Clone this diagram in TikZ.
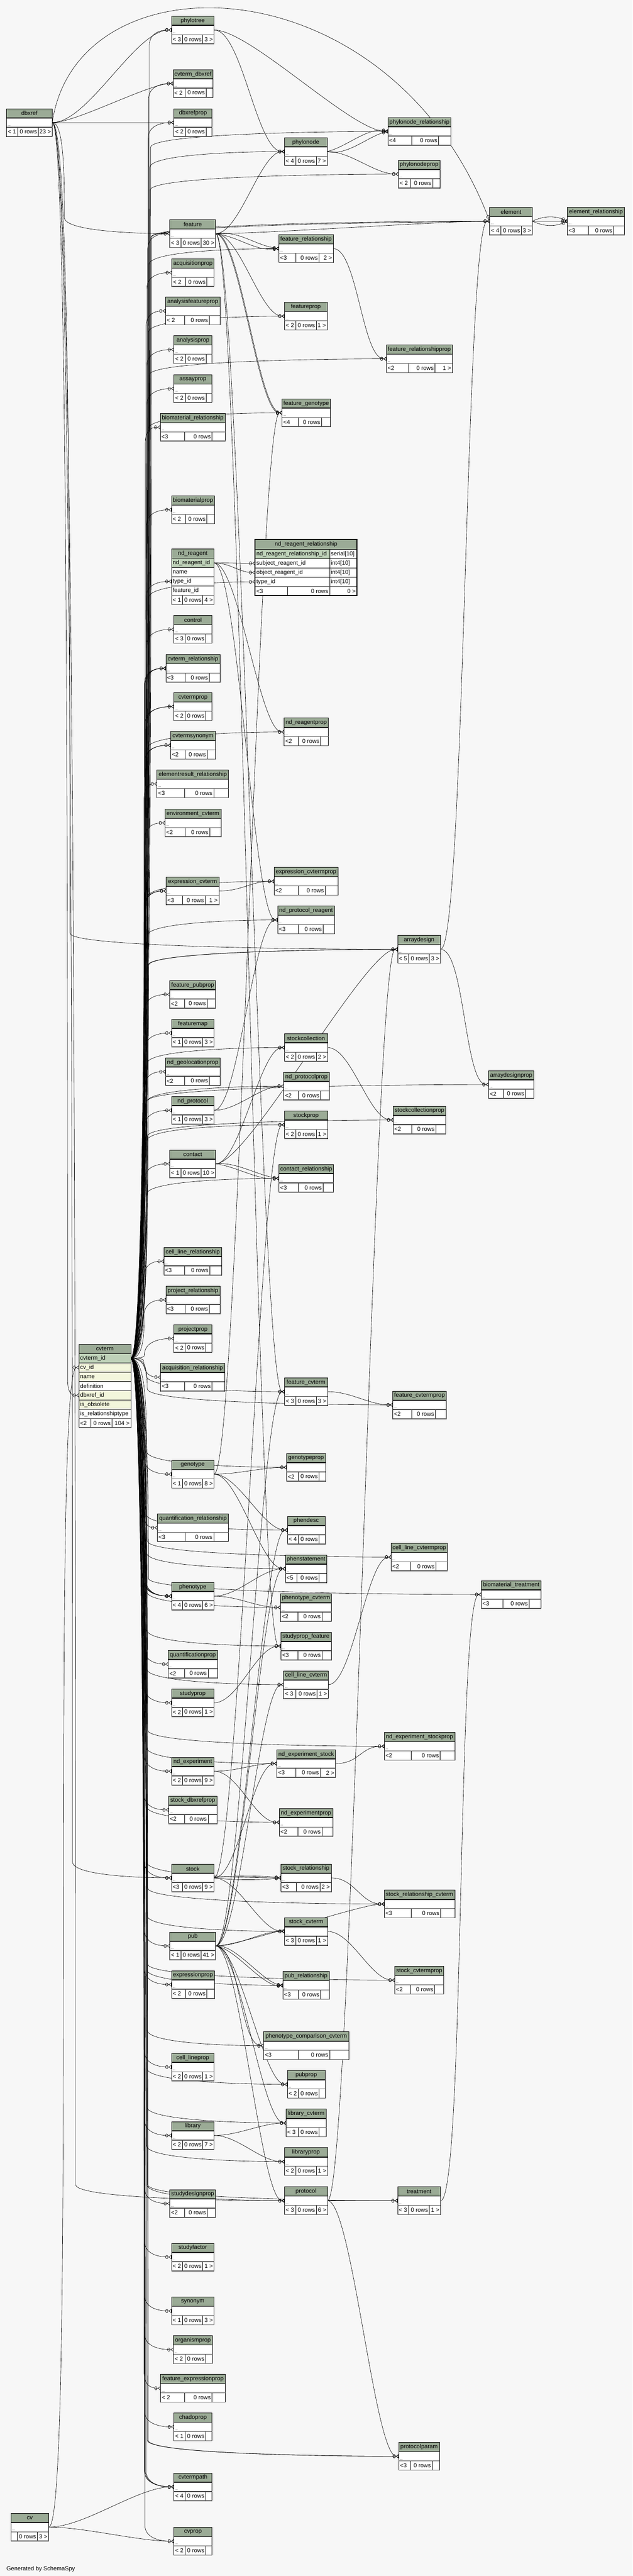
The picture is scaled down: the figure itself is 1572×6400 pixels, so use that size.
\documentclass[tikz,border=0pt]{standalone}
\usepackage{fontspec}
\setmainfont{Liberation Sans}
\usetikzlibrary{calc, arrows.meta}

\definecolor{pagebg}{HTML}{F7F7F7}
\definecolor{hdrgreen}{HTML}{9BAB96}
\definecolor{keygreen}{HTML}{BED1B8}
\definecolor{idxyellow}{HTML}{F3F6DC}

\pgfdeclarelayer{bg}
\pgfdeclarelayer{edges}
\pgfsetlayers{bg,edges,main}

\newcommand{\tabfont}{\fontsize{14.5}{17}\selectfont}

\tikzset{
  crowfoot/.tip={Circle[open,length=7pt,width=9pt,sep=1pt] Triangle[reversed,open,length=7pt,width=10pt]},
  box/.style={draw=black, line width=0.8pt, fill=white, minimum height=23pt, inner sep=1pt, outer sep=0pt},
  hdr/.style={box, fill=hdrgreen, font=\tabfont},
  ftxt/.style={font=\tabfont, inner sep=3pt},
  dots/.style={font=\fontsize{8}{9}\selectfont, inner sep=3pt},
  fk/.style={line width=0.8pt, -crowfoot},
}

% footer row of a table: parents, rows, children
\newcommand{\tfoot}[8]{%
  \node[box, minimum width={(#3-#2)*1pt}, anchor=north west] (#1-f) at (#2,#4) {};
  \draw[line width=0.8pt] (#5,#4) -- (#5,#4+23) (#6,#4) -- (#6,#4+23);
  \draw[line width=1.6pt, black!70] (#2,#4) -- (#3,#4);
  \draw[line width=2pt, black!65] (#2,#4+23) -- (#3,#4+23);
  \node[ftxt, anchor=west] (#1-l) at (#2,#4+11.5) {#7};
  \node[ftxt, anchor=east] (#1-n) at (#6,#4+11.5) {0 rows};
  \node[ftxt, anchor=east] (#1-r) at (#3,#4+11.5) {#8};
}

% a table drawn with its columns folded away
\newcommand{\tbl}[9]{%
  \node[hdr, minimum width={(#4-#3)*1pt}, anchor=north west] (#1-h) at (#3,#5) {#2};
  \node[box, minimum width={(#4-#3)*1pt}, anchor=north west] (#1) at (#3,#5+23) {};
  \node[dots, anchor=south west] (#1-d) at (#3,#5+46) {...};
  \draw[line width=2pt] (#3,#5+23) -- (#4,#5+23);
  \tfoot{#1}{#3}{#4}{#5+46}{#6}{#7}{#8}{#9}%
}

\begin{document}
\begin{tikzpicture}[x=1pt, y=-1pt]

\useasboundingbox (0,0) rectangle (1572,6400);
\begin{pgfonlayer}{bg}
  \fill[pagebg] (0,0) rectangle (1572,6400);
\end{pgfonlayer}

% Folded tables
\tbl{phylotree}{phylotree}{426}{532}{40}{453}{504}{< 3}{3 >}
\tbl{cvtermdbxref}{cvterm\_dbxref}{430}{529}{173}{460}{512}{< 2}{}
\tbl{dbxref}{dbxref}{16}{130}{270}{44}{95}{< 1}{23 >}
\tbl{dbxrefprop}{dbxrefprop}{432}{527}{270}{461}{512}{< 2}{}
\tbl{phylonoderel}{phylonode\_relationship}{964}{1121}{292}{1023}{1090}{<4}{}
\tbl{phylonode}{phylonode}{707}{813}{342}{735}{786}{< 4}{7 >}
\tbl{phylonodeprop}{phylonodeprop}{990}{1093}{398}{1021}{1075}{< 2}{}
\tbl{element}{element}{1217}{1323}{515}{1245}{1296}{< 4}{3 >}
\tbl{elementrel}{element\_relationship}{1410}{1552}{515}{1462}{1525}{<3}{}
\tbl{feature}{feature}{422}{536}{546}{450}{500}{< 3}{30 >}
\tbl{featurerel}{feature\_relationship}{693}{828}{583}{735}{793}{<3}{2 >}
\tbl{acquisitionprop}{acquisitionprop}{427}{532}{643}{461}{514}{< 2}{}
\tbl{analysisfeatureprop}{analysisfeatureprop}{411}{547}{738}{459}{520}{< 2}{}
\tbl{featureprop}{featureprop}{707}{813}{751}{735}{786}{< 2}{1 >}
\tbl{analysisprop}{analysisprop}{432}{527}{834}{461}{512}{< 2}{}
\tbl{featurerelprop}{feature\_relationshipprop}{960}{1124}{857}{1016}{1081}{<2}{1 >}
\tbl{assayprop}{assayprop}{432}{527}{931}{461}{512}{< 2}{}
\tbl{featuregenotype}{feature\_genotype}{701}{821}{991}{741}{799}{<4}{}
\tbl{biomaterialrel}{biomaterial\_relationship}{398}{560}{1027}{458}{527}{<3}{}
\tbl{biomaterialprop}{biomaterialprop}{426}{533}{1232}{461}{514}{< 2}{}
\tbl{control}{control}{432}{527}{1529}{460}{511}{< 3}{}
\tbl{cvtermrel}{cvterm\_relationship}{412}{547}{1626}{460}{520}{<3}{}
\tbl{cvtermprop}{cvtermprop}{432}{527}{1721}{460}{511}{< 2}{}
\tbl{ndreagentprop}{nd\_reagentprop}{706}{816}{1784}{742}{797}{<2}{}
\tbl{cvtermsynonym}{cvtermsynonym}{424}{535}{1817}{460}{515}{<2}{}
\tbl{elementresultrel}{elementresult\_relationship}{390}{568}{1913}{459}{531}{<3}{}
\tbl{environmentcvterm}{environment\_cvterm}{410}{549}{2010}{460}{521}{<2}{}
\tbl{expressioncvtermprop}{expression\_cvtermprop}{681}{840}{2155}{741}{808}{<2}{}
\tbl{expressioncvterm}{expression\_cvterm}{413}{544}{2179}{453}{510}{<3}{1 >}
\tbl{ndprotocolreagent}{nd\_protocol\_reagent}{690}{831}{2251}{741}{803}{<3}{}
\tbl{arraydesign}{arraydesign}{988}{1095}{2324}{1016}{1067}{< 5}{3 >}
\tbl{featurepubprop}{feature\_pubprop}{422}{536}{2436}{459}{515}{<2}{}
\tbl{featuremap}{featuremap}{426}{532}{2532}{453}{504}{< 1}{3 >}
\tbl{stockcollection}{stockcollection}{707}{814}{2568}{735}{786}{< 2}{2 >}
\tbl{ndgeolocationprop}{nd\_geolocationprop}{411}{547}{2628}{459}{520}{<2}{}
\tbl{arraydesignprop}{arraydesignprop}{1214}{1327}{2660}{1251}{1306}{<2}{}
\tbl{ndprotocolprop}{nd\_protocolprop}{705}{818}{2664}{742}{797}{<2}{}
\tbl{ndprotocol}{nd\_protocol}{426}{532}{2724}{453}{504}{< 1}{3 >}
\tbl{stockcollectionprop}{stockcollectionprop}{977}{1108}{2748}{1023}{1083}{<2}{}
\tbl{stockprop}{stockprop}{707}{814}{2760}{735}{786}{< 2}{1 >}
\tbl{contact}{contact}{422}{536}{2857}{450}{500}{< 1}{10 >}
\tbl{contactrel}{contact\_relationship}{693}{829}{2893}{742}{803}{<3}{}
\tbl{celllinerel}{cell\_line\_relationship}{407}{551}{3099}{459}{521}{<3}{}
\tbl{projectrel}{project\_relationship}{412}{547}{3195}{460}{520}{<3}{}
\tbl{projectprop}{projectprop}{432}{527}{3291}{460}{511}{< 2}{}
\tbl{acquisitionrel}{acquisition\_relationship}{399}{558}{3387}{459}{527}{<3}{}
\tbl{featurecvterm}{feature\_cvterm}{707}{814}{3423}{735}{786}{< 3}{3 >}
\tbl{featurecvtermprop}{feature\_cvtermprop}{976}{1109}{3456}{1023}{1082}{<2}{}
\tbl{genotypeprop}{genotypeprop}{712}{809}{3611}{742}{793}{<2}{}
\tbl{genotype}{genotype}{426}{532}{3628}{453}{504}{< 1}{8 >}
\tbl{quantificationrel}{quantification\_relationship}{391}{568}{3761}{460}{531}{<3}{}
\tbl{phendesc}{phendesc}{714}{808}{3767}{742}{793}{< 4}{}
\tbl{celllinecvtermprop}{cell\_line\_cvtermprop}{972}{1112}{3834}{1021}{1083}{<2}{}
\tbl{phenstatement}{phenstatement}{709}{812}{3863}{738}{793}{<5}{}
\tbl{biomaterialtreatment}{biomaterial\_treatment}{1196}{1345}{3927}{1250}{1315}{<3}{}
\tbl{phenotype}{phenotype}{426}{532}{3931}{453}{504}{< 4}{6 >}
\tbl{phenotypecvterm}{phenotype\_cvterm}{697}{824}{3959}{740}{800}{<2}{}
\tbl{studypropfeature}{studyprop\_feature}{698}{823}{4055}{740}{800}{<3}{}
\tbl{quantificationprop}{quantificationprop}{418}{540}{4100}{459}{517}{<2}{}
\tbl{celllinecvterm}{cell\_line\_cvterm}{705}{816}{4151}{735}{788}{< 3}{1 >}
\tbl{studyprop}{studyprop}{426}{532}{4196}{453}{504}{< 2}{1 >}
\tbl{ndexpstockprop}{nd\_experiment\_stockprop}{955}{1130}{4304}{1022}{1094}{<2}{}
\tbl{ndexpstock}{nd\_experiment\_stock}{688}{834}{4347}{735}{796}{<3}{2 >}
\tbl{ndexperiment}{nd\_experiment}{426}{532}{4366}{453}{504}{< 2}{9 >}
\tbl{stockdbxrefprop}{stock\_dbxrefprop}{419}{539}{4462}{459}{517}{<2}{}
\tbl{ndexperimentprop}{nd\_experimentprop}{694}{827}{4493}{740}{800}{<2}{}
\tbl{stock}{stock}{426}{532}{4631}{453}{504}{<3}{9 >}
\tbl{stockrel}{stock\_relationship}{698}{823}{4631}{736}{795}{<3}{2 >}
\tbl{stockrelcvterm}{stock\_relationship\_cvterm}{955}{1130}{4696}{1022}{1095}{<3}{}
\tbl{stockcvterm}{stock\_cvterm}{707}{814}{4764}{735}{786}{< 3}{1 >}
\tbl{pub}{pub}{422}{536}{4800}{450}{500}{< 1}{41 >}
\tbl{stockcvtermprop}{stock\_cvtermprop}{981}{1103}{4885}{1021}{1080}{<2}{}
\tbl{expressionprop}{expressionprop}{426}{533}{4896}{461}{514}{< 2}{}
\tbl{pubrel}{pub\_relationship}{703}{818}{4898}{741}{797}{<3}{}
\tbl{phenocompcvterm}{phenotype\_comparison\_cvterm}{655}{867}{5048}{741}{819}{<3}{}
\tbl{celllineprop}{cell\_lineprop}{426}{532}{5101}{453}{504}{< 2}{1 >}
\tbl{pubprop}{pubprop}{714}{808}{5144}{742}{793}{< 2}{}
\tbl{librarycvterm}{library\_cvterm}{711}{811}{5240}{742}{793}{< 3}{}
\tbl{library}{library}{426}{532}{5271}{453}{504}{< 2}{7 >}
\tbl{libraryprop}{libraryprop}{707}{814}{5336}{735}{786}{< 2}{1 >}
\tbl{protocol}{protocol}{707}{814}{5433}{735}{786}{< 3}{6 >}
\tbl{treatment}{treatment}{988}{1095}{5433}{1016}{1067}{< 3}{1 >}
\tbl{studydesignprop}{studydesignprop}{422}{536}{5440}{459}{515}{<2}{}
\tbl{studyfactor}{studyfactor}{426}{532}{5573}{453}{504}{< 2}{1 >}
\tbl{synonym}{synonym}{426}{532}{5707}{453}{504}{< 1}{3 >}
\tbl{organismprop}{organismprop}{431}{528}{5803}{460}{511}{< 2}{}
\tbl{featureexpprop}{feature\_expressionprop}{399}{560}{5899}{459}{527}{< 2}{}
\tbl{chadoprop}{chadoprop}{432}{527}{5995}{460}{511}{< 1}{}
\tbl{protocolparam}{protocolparam}{991}{1092}{6068}{1021}{1074}{<3}{}
\tbl{cvtermpath}{cvtermpath}{432}{527}{6144}{460}{511}{< 4}{}
\tbl{cv}{cv}{27}{121}{6244}{43}{93}{}{3 >}
\tbl{cvprop}{cvprop}{432}{527}{6279}{460}{511}{< 2}{}

% cvterm, with its columns
\node[hdr, minimum width=129pt, anchor=north west] (cvterm-h) at (196,3340) {cvterm};
\foreach \rid/\lbl/\clr [count=\k] in {id/cvterm\_id/keygreen, cv/cv\_id/idxyellow, name/name/idxyellow, def/definition/white, dbx/dbxref\_id/idxyellow, obs/is\_obsolete/idxyellow, rel/is\_relationshiptype/white} {
  \node[box, fill=\clr, minimum width=129pt, anchor=north west] (cvterm-\rid) at (196,3340+\k*23) {};
  \node[ftxt, anchor=west] (cvterm-\rid-t) at (cvterm-\rid.west) {\lbl};
}
\draw[line width=2pt] (196,3363) -- (325,3363);
\tfoot{cvterm}{196}{325}{3524}{226}{278}{<2}{104 >}

% nd_reagent, with its columns
\node[hdr, minimum width=106pt, anchor=north west] (ndreagent-h) at (426,1364) {nd\_reagent};
\foreach \rid/\lbl/\clr [count=\k] in {id/nd\_reagent\_id/keygreen, name/name/white, type/type\_id/white, feat/feature\_id/white} {
  \node[box, fill=\clr, minimum width=106pt, anchor=north west] (ndreagent-\rid) at (426,1364+\k*23) {};
  \node[ftxt, anchor=west] (ndreagent-\rid-t) at (ndreagent-\rid.west) {\lbl};
}
\draw[line width=2pt] (426,1387) -- (532,1387);
\tfoot{ndreagent}{426}{532}{1479}{453}{504}{< 1}{4 >}

% nd_reagent_relationship, the table in focus
\node[hdr, minimum width=253pt, minimum height=25pt, anchor=north west] (nrr-h) at (634,1340) {nd\_reagent\_relationship};
\foreach \rid/\lbl/\ty/\clr [count=\k] in {rid/nd\_reagent\_relationship\_id/serial[10]/keygreen, subj/subject\_reagent\_id/int4[10]/white, obj/object\_reagent\_id/int4[10]/white, type/type\_id/int4[10]/white} {
  \node[box, fill=\clr, minimum width=185pt, anchor=north west] (nrr-\rid) at (634,1342+\k*23) {};
  \node[ftxt, anchor=west] (nrr-\rid-t) at (nrr-\rid.west) {\lbl};
  \node[box, minimum width=68pt, anchor=north west] (nrr-\rid-ty) at (819,1342+\k*23) {};
  \node[ftxt, anchor=west] (nrr-\rid-tt) at (nrr-\rid-ty.west) {\ty};
}
\draw[line width=2pt] (634,1365) -- (887,1365);
\tfoot{nrr}{634}{887}{1457}{715}{819}{<3}{0 >}
\draw[line width=3pt] (634,1340) rectangle (887,1480);

\node[font=\tabfont, anchor=west, inner sep=0pt] (credit) at (16,6383) {Generated by SchemaSpy};

\begin{pgfonlayer}{edges}
% cvterm feeds every type_id: run down a bus, then turn in
\foreach \dst/\off in {phylotree/46, cvtermdbxref/44, dbxrefprop/43, phylonoderel/49, phylonode/47, phylonodeprop/48, element/50, elementrel/51, feature/42, featurerel/45, acquisitionprop/40, analysisfeatureprop/38, featureprop/44, analysisprop/40, featurerelprop/46, assayprop/40, featuregenotype/43, biomaterialrel/36, biomaterialprop/39, ndreagent-type/38, nrr-type/44, control/39, cvtermrel/34, cvtermrel/36, cvtermrel/38, cvtermprop/36, cvtermprop/38, ndreagentprop/42, cvtermsynonym/35, cvtermsynonym/37, elementresultrel/33, environmentcvterm/35, expressioncvterm/34, expressioncvterm/36, expressioncvtermprop/41, ndprotocolreagent/40, arraydesign/42, arraydesign/44, featurepubprop/34, featuremap/35, stockcollection/40, ndgeolocationprop/34, ndprotocolprop/39, arraydesignprop/43, ndprotocol/35, stockprop/40, stockcollectionprop/42, contact/34, contactrel/39, celllinerel/33, projectrel/33, projectprop/34, acquisitionrel/32, featurecvterm/38, featurecvtermprop/41, genotypeprop/39, genotype/33, quantificationrel/32, phendesc/38, celllinecvtermprop/41, phenstatement/39, biomaterialtreatment/44, phenotype/32, phenotype/34, phenotype/36, phenotype/38, phenotypecvterm/39, studypropfeature/40, quantificationprop/33, celllinecvterm/39, studyprop/34, ndexpstockprop/42, ndexpstock/39, ndexperiment/34, stockdbxrefprop/33, ndexperimentprop/39, stock/34, stockrel/39, stockrelcvterm/42, stockcvterm/40, pub/34, expressionprop/34, pubrel/39, stockcvtermprop/42, phenocompcvterm/40, celllineprop/34, pubprop/40, librarycvterm/40, library/34, libraryprop/39, protocol/40, treatment/42, studydesignprop/34, studyfactor/34, synonym/34, organismprop/34, featureexpprop/33, chadoprop/34, protocolparam/41, protocolparam/43, cvtermpath/34, cvtermpath/36, cvtermpath/38, cvprop/35} {
  \coordinate (bus) at ($(cvterm-id.east)+(\off,0)$);
  \coordinate (turn) at ($(\dst.west -| bus)!40pt!(bus)$);
  \draw[fk] (cvterm-id.east) .. controls (bus) and ($(turn)!0.4!(bus)$) .. (turn)
    .. controls (\dst.west -| bus) and ($(\dst.west)+(-15,0)$) .. (\dst.west);
}

% dbxref: the far children go down a bus of their own
\foreach \dst/\off in {feature/30, cvterm-dbx/38, arraydesign/44, stock/50, protocol/58} {
  \coordinate (bus) at ($(dbxref.east)+(\off,0)$);
  \coordinate (turn) at ($(\dst.west -| bus)!40pt!(bus)$);
  \draw[fk] (dbxref.east) .. controls (bus) and ($(turn)!0.4!(bus)$) .. (turn)
    .. controls (\dst.west -| bus) and ($(\dst.west)+(-15,0)$) .. (\dst.west);
}
\draw[fk] (dbxref.east) .. controls +(60,-420) and +(-250,-650) .. (element.west);

% the other foreign keys
\foreach \src/\dst/\hh/\vv in {dbxref/phylotree/90/0, dbxref/cvtermdbxref/60/0, dbxref/dbxrefprop/60/0,
  cv/cvterm-cv/70/0, cv/cvtermpath/90/0, cv/cvprop/90/0,
  phylotree/phylonode/70/0, phylotree/phylonoderel/90/0,
  phylonode/phylonoderel/50/-12, phylonode/phylonoderel/50/12, phylonode/phylonodeprop/60/0,
  feature/element/120/0, feature/featurerel/60/-8, feature/featurerel/60/8, feature/featureprop/60/0,
  feature/featuregenotype/60/-6, feature/featuregenotype/60/6, feature/phylonode/60/0,
  feature/featurecvterm/60/0, feature/studypropfeature/60/0,
  element/elementrel/30/-14, element/elementrel/30/14,
  arraydesign/element/60/0, arraydesign/arraydesignprop/60/0,
  featurerel/featurerelprop/60/0,
  genotype/featuregenotype/60/0, genotype/genotypeprop/60/0, genotype/phendesc/60/0, genotype/phenstatement/60/0,
  ndreagent-id/nrr-subj/40/0, ndreagent-id/nrr-obj/40/0, ndreagent-id/ndreagentprop/60/0, ndreagent-id/ndprotocolreagent/60/0,
  expressioncvterm/expressioncvtermprop/60/0,
  ndprotocol/ndprotocolreagent/60/0, ndprotocol/ndprotocolprop/60/0,
  contact/arraydesign/80/0, contact/stockcollection/60/0, contact/contactrel/50/-6, contact/contactrel/50/6,
  stockcollection/stockcollectionprop/60/0,
  stock/stockprop/60/0, stock/stockrel/50/-6, stock/stockrel/50/6, stock/stockcvterm/60/0, stock/ndexpstock/60/0,
  featurecvterm/featurecvtermprop/60/0,
  phenotype/phenstatement/60/0, phenotype/phenotypecvterm/60/0,
  treatment/biomaterialtreatment/60/0,
  studyprop/studypropfeature/60/0,
  celllinecvterm/celllinecvtermprop/60/0,
  ndexpstock/ndexpstockprop/60/0,
  ndexperiment/ndexpstock/60/0, ndexperiment/ndexperimentprop/60/0,
  stockrel/stockrelcvterm/60/0,
  stockcvterm/stockcvtermprop/60/0,
  pub/featurecvterm/60/0, pub/phendesc/60/0, pub/phenstatement/60/0, pub/celllinecvterm/60/0,
  pub/stockrelcvterm/60/0, pub/stockcvterm/60/0, pub/pubrel/50/-6, pub/pubrel/50/6,
  pub/phenocompcvterm/60/0, pub/pubprop/60/0, pub/librarycvterm/60/0, pub/protocol/60/0,
  library/librarycvterm/60/0, library/libraryprop/60/0,
  protocol/arraydesign/60/0, protocol/treatment/60/0, protocol/protocolparam/60/0} {
  \draw[fk] (\src.east) .. controls +(\hh,\vv) and +(-\hh,\vv) .. (\dst.west);
}
\end{pgfonlayer}

\end{tikzpicture}
\end{document}
